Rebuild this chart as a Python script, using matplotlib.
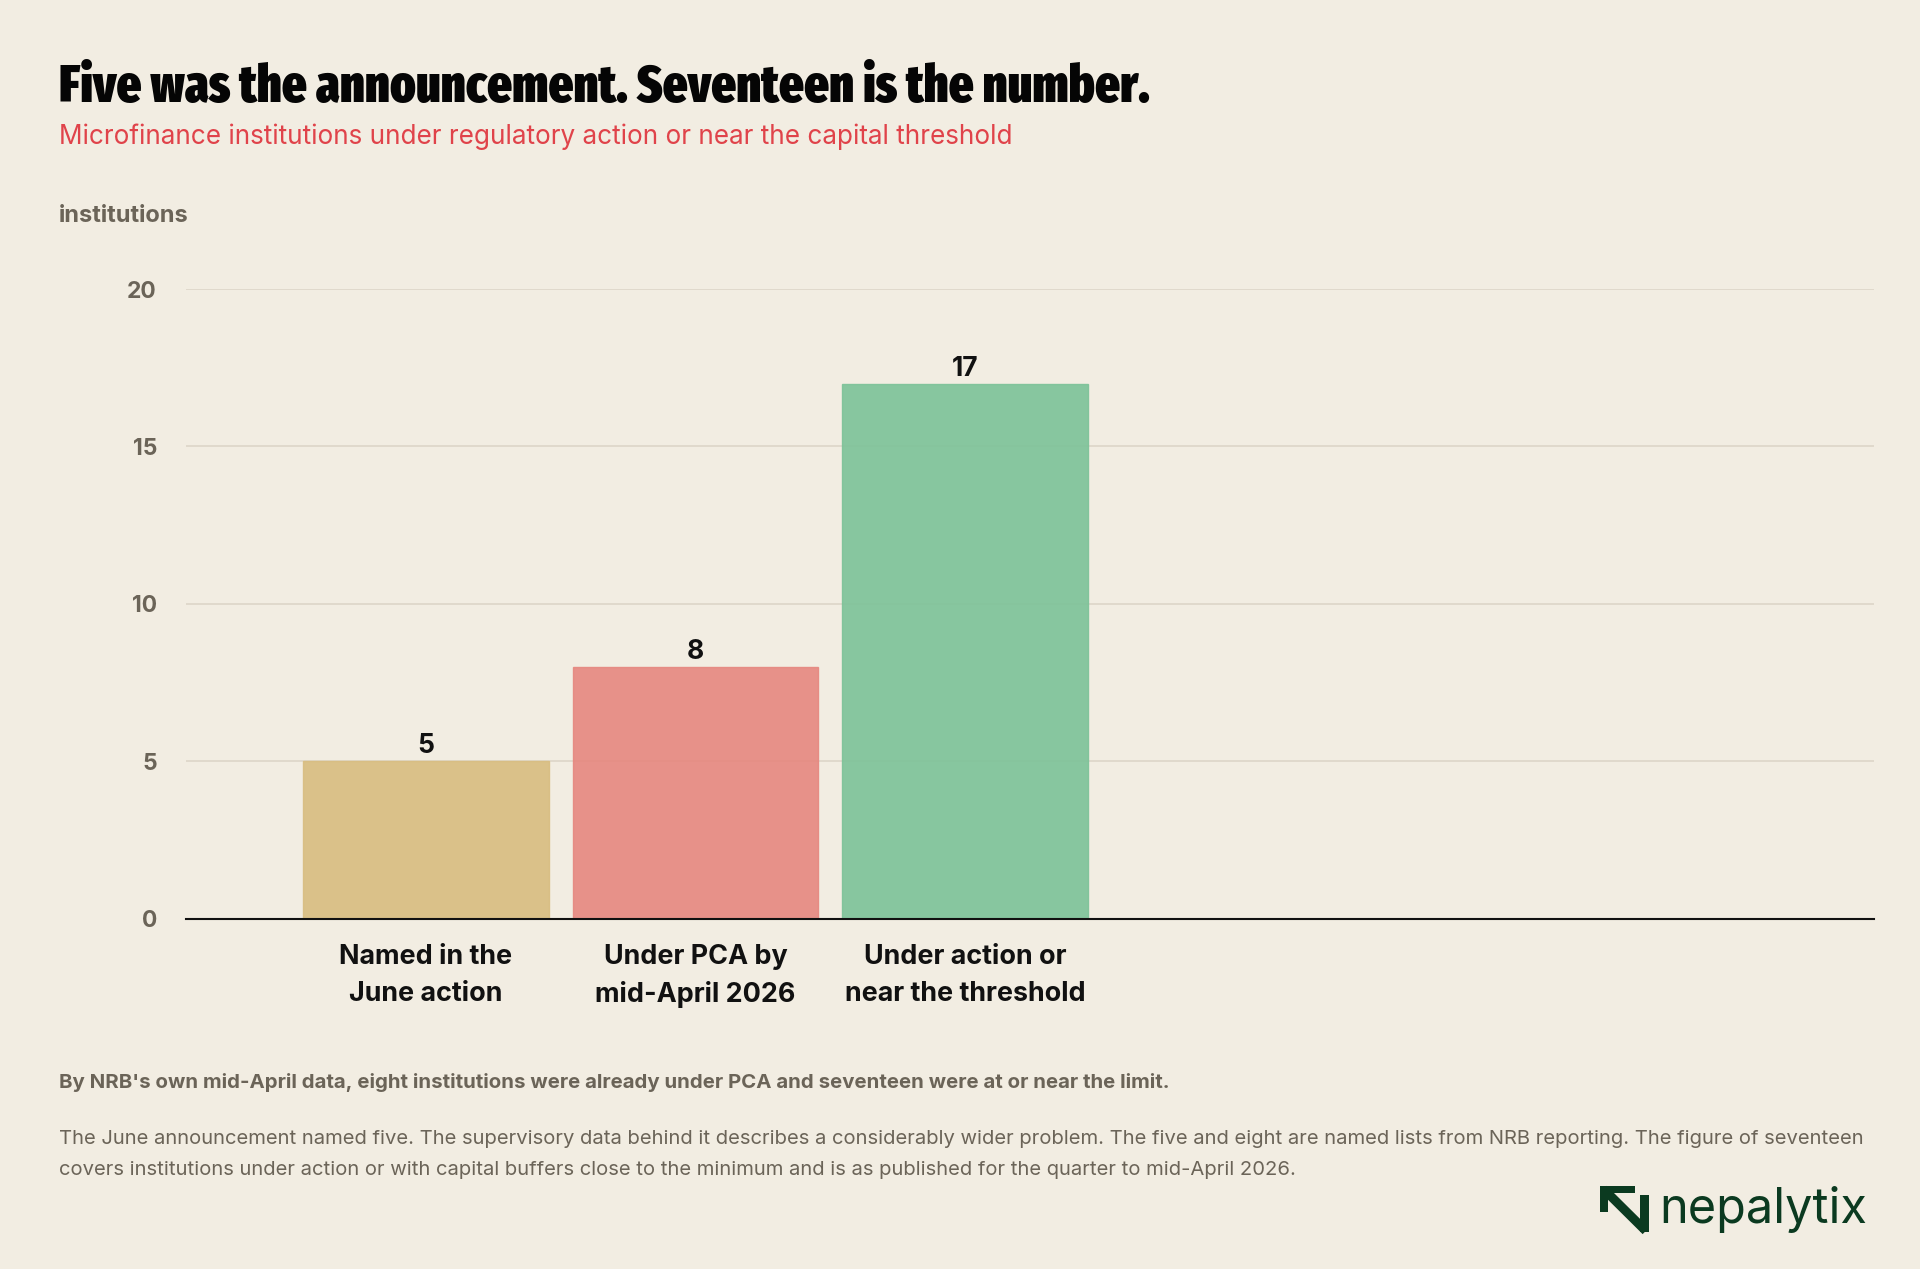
import matplotlib
matplotlib.use("Agg")
import matplotlib.pyplot as plt
from matplotlib import font_manager
from matplotlib.font_manager import FontProperties
from matplotlib.lines import Line2D
from matplotlib.patches import Rectangle
import numpy as np

# chart data
categories = ["Named in the\nJune action", "Under PCA by\nmid-April 2026", "Under action or\nnear the threshold"]
values = [5, 8, 17]
bar_colors = ["#d8bd80", "#e6877f", "#7cc298"]
yticks = [0, 5, 10, 15, 20]

title = "Five was the announcement. Seventeen is the number."
subtitle = "Microfinance institutions under regulatory action or near the capital threshold"
takeaway = "By NRB's own mid-April data, eight institutions were already under PCA and seventeen were at or near the limit."
note_lines = [
    "The June announcement named five. The supervisory data behind it describes a considerably wider problem. The five and eight are named lists from NRB reporting. The figure of seventeen",
    "covers institutions under action or with capital buffers close to the minimum and is as published for the quarter to mid-April 2026.",
]

BG = "#f2ede2"
GREY = "#6b6458"
INK = "#111111"

plt.rcParams['font.family'] = ['Inter', 'DejaVu Sans']


def pick_condensed_font():
    # look for a heavy condensed face among installed fonts
    best, best_score = None, -1
    for f in font_manager.fontManager.ttflist:
        fn = f.fname.lower().replace('-', '').replace('_', '')
        w = f.weight if isinstance(f.weight, int) else 400
        if 'italic' in fn or f.style != 'normal':
            continue
        score = 0
        if 'extracondensed' in fn:
            score += 30
        elif 'condensed' in fn or 'narrow' in fn or f.stretch in ('condensed', 'extra-condensed'):
            score += 20
        else:
            continue
        if 'semicondensed' in fn:
            score -= 10
        if w >= 900 or 'black' in fn:
            score += 8
        elif w >= 800 or 'extrabold' in fn:
            score += 7
        elif w >= 700 or 'bold' in fn:
            score += 5
        if score > best_score:
            best, best_score = f.fname, score
    if best:
        return FontProperties(fname=best)
    return FontProperties(family='DejaVu Sans', weight='bold')


fig = plt.figure(figsize=(19.2, 12.69), dpi=100, facecolor=BG)
ax = fig.add_axes([0.0969, 0.2761, 0.8789, 0.4961])
ax.set_facecolor(BG)

x = np.arange(len(categories))
bars = ax.bar(x, values, width=0.91, color=bar_colors, alpha=0.9,
              edgecolor=bar_colors, linewidth=1, zorder=3)
for xi, v in zip(x, values):
    ax.text(xi, v + 0.06, str(v), ha='center', va='bottom',
            fontsize=19, fontweight='bold', color=INK, zorder=4)

ax.set_xlim(-0.89, 5.37)
ax.set_ylim(0, 20)
ax.set_yticks(yticks)
ax.set_yticklabels([str(t) for t in yticks], fontsize=16.5, fontweight='bold', color=GREY)
ax.set_xticks(x)
ax.set_xticklabels(categories, fontsize=19.4, fontweight='bold', color=INK, linespacing=1.55)
ax.tick_params(axis='x', length=0, pad=18)
ax.tick_params(axis='y', length=0, pad=21)
ax.grid(axis='y', color="#ddd6c8", linewidth=1.2, zorder=0)
for s in ['top', 'right', 'left']:
    ax.spines[s].set_visible(False)
ax.spines['bottom'].set_color(INK)
ax.spines['bottom'].set_linewidth(1.5)
ax.spines['bottom'].set_zorder(5)

# headings
tfont = pick_condensed_font()
tfont.set_size(46)
t = fig.text(0.0306, 0.920, title, fontproperties=tfont, color="#050505", va='baseline')
renderer = fig.canvas.get_renderer()
width_px = t.get_window_extent(renderer).width
target_px = 1092
if width_px > target_px:
    t.set_fontsize(46 * target_px / width_px)

fig.text(0.0306, 0.8925, subtitle, fontsize=18.8, color="#e0434a", va='center')
fig.text(0.0306, 0.830, "institutions", fontsize=17, fontweight='bold', color=GREY, va='center')

# footer
fig.text(0.0306, 0.1467, takeaway, fontsize=14.7, fontweight='bold', color=GREY, va='center')
fig.text(0.0306, 0.1023, note_lines[0], fontsize=14.55, color=GREY, va='center')
fig.text(0.0306, 0.0782, note_lines[1], fontsize=14.55, color=GREY, va='center')

# logo
green = "#0b3a20"
fig.text(0.9725, 0.0470, "nepalytix", fontsize=35, color=green, ha='right', va='center')
for (rx, ry, rw, rh) in [(0.8333, 0.0599, 0.0183, 0.0055),
                         (0.8333, 0.0449, 0.0042, 0.0205),
                         (0.8542, 0.0292, 0.0047, 0.0291)]:
    fig.add_artist(Rectangle((rx, ry), rw, rh, transform=fig.transFigure,
                             facecolor=green, edgecolor='none'))
fig.add_artist(Line2D([0.8352, 0.8572], [0.0630, 0.0300], transform=fig.transFigure,
                      color=green, linewidth=6.5, solid_capstyle='butt'))

fig.savefig("out.png", dpi=100, facecolor=BG)
